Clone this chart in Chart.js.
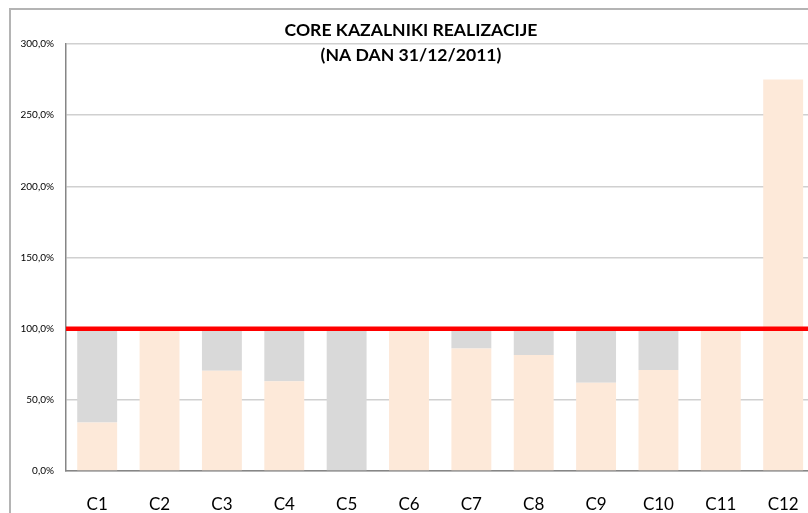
<!DOCTYPE html>
<html>
<head>
<meta charset="utf-8">
<script src="https://cdn.jsdelivr.net/npm/chart.js@4.4.1/dist/chart.umd.min.js"></script>
<style>
  html, body { margin: 0; padding: 0; background: #fff; overflow: hidden; }
  #wrap { position: relative; width: 808px; height: 513px; overflow: hidden; }
  #frame { position: absolute; left: 9px; top: 8px; width: 900px; height: 600px; border: 2px solid #b4b4b4; box-sizing: border-box; }
  #c { position: absolute; left: 0; top: 0; }
</style>
</head>
<body>
<div id="wrap">
  <div id="frame"></div>
  <canvas id="c" width="822" height="513"></canvas>
</div>
<script>
const categories = ['C1','C2','C3','C4','C5','C6','C7','C8','C9','C10','C11','C12'];
const realizacija = [34, 100, 70.5, 63, 0, 100, 86, 81.5, 62, 71, 100, 275];
const doCilja = [66, 0, 29.5, 37, 100, 0, 14, 18.5, 38, 29, 0, 0];
const targetLevel = [100, 100];
const titleLines = ['CORE KAZALNIKI REALIZACIJE', '(NA DAN 31/12/2011)'];

const titlePlugin = {
  id: 'overlayTitle',
  afterDraw(chart) {
    const ctx = chart.ctx;
    ctx.save();
    ctx.font = 'bold 17.6px Lato';
    ctx.fillStyle = '#000';
    ctx.textAlign = 'center';
    ctx.textBaseline = 'middle';
    const cx = chart.width / 2;
    titleLines.forEach((t, i) => ctx.fillText(t, cx, 30 + i * 25));
    ctx.restore();
  }
};

new Chart(document.getElementById('c'), {
  data: {
    labels: categories,
    datasets: [
      {
        type: 'bar', label: 'Realizacija', data: realizacija,
        backgroundColor: '#FDE9D9', borderWidth: 0, grouped: false,
        categoryPercentage: 1, barPercentage: 0.64, order: 1
      },
      {
        type: 'bar', label: 'Do cilja', data: doCilja,
        backgroundColor: '#D9D9D9', borderWidth: 0, grouped: false,
        categoryPercentage: 1, barPercentage: 0.64, order: 1
      },
      {
        type: 'line', label: 'Cilj',
        data: [{x: 0, y: targetLevel[0]}, {x: categories.length, y: targetLevel[1]}],
        xAxisID: 'x2', borderColor: '#FF0000', borderWidth: 4.5,
        pointRadius: 0, fill: false, stack: 'line', order: 0
      }
    ]
  },
  options: {
    responsive: false,
    animation: false,
    devicePixelRatio: 1,
    layout: { padding: { left: 9, top: 44, right: 7, bottom: 0 } },
    plugins: { legend: { display: false }, tooltip: { enabled: false }, title: { display: false } },
    scales: {
      x: {
        type: 'category',
        stacked: true,
        offset: true,
        grid: { display: false, drawTicks: false },
        border: { display: true, color: '#868686', width: 1.5 },
        ticks: { font: { family: 'Lato', size: 17 }, color: '#000', padding: 23, maxRotation: 0 },
        afterFit(s) { s.height = 42; }
      },
      x2: { type: 'linear', display: false, offset: false, min: 0, max: categories.length },
      y: {
        stacked: true,
        min: 0, max: 300,
        grid: { color: '#d0d0d0', lineWidth: 1.5, drawTicks: false },
        border: { display: true, color: '#868686', width: 1.5 },
        ticks: {
          stepSize: 50, padding: 12, color: '#000',
          font: { family: 'Lato', size: 10 },
          callback: v => v.toFixed(1).replace('.', ',') + '%'
        },
        afterFit(s) { s.width = 57; }
      }
    }
  },
  plugins: [titlePlugin]
});
</script>
</body>
</html>
